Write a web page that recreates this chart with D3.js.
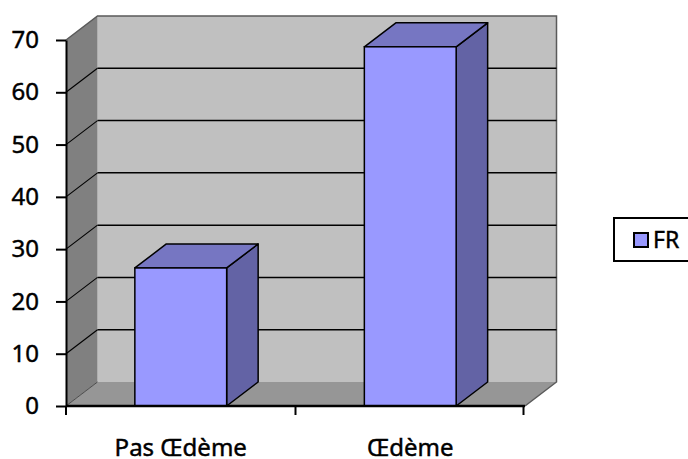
<!DOCTYPE html>
<html>
<head>
<meta charset="utf-8">
<script src="https://cdn.jsdelivr.net/npm/d3@7"></script>
<style>
  html, body { margin: 0; padding: 0; background: #fff; }
  svg { display: block; }
  text { font-family: "Noto Sans", "DejaVu Sans", sans-serif; fill: #000; stroke: #000; stroke-width: 0.45px; }
</style>
</head>
<body>
<svg id="chart" width="688" height="459"></svg>
<script>
// Chart data
const categories = ["Pas Œdème", "Œdème"];
const seriesName = "FR";
const seriesValues = [26.4, 68.7];
const yTicks = [0, 10, 20, 30, 40, 50, 60, 70];

const svg = d3.select("#chart");

// Front plane of the 3D box, plus the depth offset of the back wall
const x = d3.scaleBand().domain(categories).range([66, 525]).paddingInner(0).paddingOuter(0);
const y = d3.scaleLinear().domain([0, 70]).range([406, 40]);
const DX = 31.5, DY = -24;
const xL = x.range()[0], xR = x.range()[1];
const yTop = y(70), yBot = y(0);

const colors = {
  backWall: "#c0c0c0",
  sideWall: "#808080",
  floor: "#969696",
  front: "#9999ff",
  top: "#7676c2",
  side: "#6363a5"
};

const pts = a => a.map(p => p.join(",")).join(" ");

// Back wall
svg.append("polygon")
  .attr("points", pts([[xL + DX, yTop + DY], [xR + DX, yTop + DY], [xR + DX, yBot + DY], [xL + DX, yBot + DY]]))
  .attr("fill", colors.backWall);
// Left side wall
svg.append("polygon")
  .attr("points", pts([[xL, yTop], [xL + DX, yTop + DY], [xL + DX, yBot + DY], [xL, yBot]]))
  .attr("fill", colors.sideWall);
// Floor
svg.append("polygon")
  .attr("points", pts([[xL, yBot], [xL + DX, yBot + DY], [xR + DX, yBot + DY], [xR, yBot]]))
  .attr("fill", colors.floor);

// Wall edges
svg.append("path")
  .attr("d", `M${xL},${yTop}L${xL + DX},${yTop + DY}L${xR + DX},${yTop + DY}L${xR + DX},${yBot + DY}L${xR},${yBot}`)
  .attr("fill", "none").attr("stroke", "#5a5a5a").attr("stroke-width", 1.5);
svg.append("line")
  .attr("x1", xL).attr("y1", yBot).attr("x2", xL + DX).attr("y2", yBot + DY)
  .attr("stroke", "#333").attr("stroke-width", 0.8);

// Gridlines: back wall and side wall
const grid = yTicks.filter(v => v > 0 && v < 70);
svg.append("g").selectAll("line").data(grid).join("line")
  .attr("x1", xL + DX).attr("x2", xR + DX)
  .attr("y1", d => y(d) + DY).attr("y2", d => y(d) + DY)
  .attr("stroke", "#000").attr("stroke-width", 1.5);
svg.append("g").selectAll("line").data(grid).join("line")
  .attr("x1", xL).attr("x2", xL + DX)
  .attr("y1", d => y(d)).attr("y2", d => y(d) + DY)
  .attr("stroke", "#000").attr("stroke-width", 1.1);

// 3D columns
const barW = x.bandwidth() * 0.4;
const bars = svg.append("g").selectAll("g").data(categories.map((c, i) => ({ c, v: seriesValues[i] }))).join("g");
bars.each(function (d) {
  const g = d3.select(this);
  const x0 = x(d.c) + (x.bandwidth() - barW) / 2, x1 = x0 + barW;
  const yt = y(d.v), yb = y(0);
  // right side face
  g.append("polygon")
    .attr("points", pts([[x1, yt], [x1 + DX, yt + DY], [x1 + DX, yb + DY], [x1, yb]]))
    .attr("fill", colors.side).attr("stroke", "#000").attr("stroke-width", 1.5).attr("stroke-linejoin", "round");
  // top face
  g.append("polygon")
    .attr("points", pts([[x0, yt], [x0 + DX, yt + DY], [x1 + DX, yt + DY], [x1, yt]]))
    .attr("fill", colors.top).attr("stroke", "#000").attr("stroke-width", 1.5).attr("stroke-linejoin", "round");
  // front face
  g.append("rect")
    .attr("x", x0).attr("y", yt).attr("width", barW).attr("height", yb - yt)
    .attr("fill", colors.front).attr("stroke", "#000").attr("stroke-width", 1.5);
});

// Value axis
const yAxis = svg.append("g")
  .attr("transform", `translate(${xL},0)`)
  .call(d3.axisLeft(y).tickValues(yTicks).tickSize(10).tickPadding(17).tickSizeOuter(0));
yAxis.select(".domain").attr("stroke", "#000").attr("stroke-width", 2);
yAxis.selectAll(".tick line").attr("stroke", "#000").attr("stroke-width", 2);
yAxis.selectAll(".tick text").attr("font-size", 24).attr("font-family", null).attr("fill", "#000");

// Category axis
svg.append("line")
  .attr("x1", xL).attr("x2", xR).attr("y1", yBot).attr("y2", yBot)
  .attr("stroke", "#000").attr("stroke-width", 2.5);
const bounds = [xL, ...categories.slice(1).map(c => x(c)), xR - 1.5];
svg.append("g").selectAll("line").data(bounds).join("line")
  .attr("x1", d => d).attr("x2", d => d).attr("y1", yBot).attr("y2", yBot + 9)
  .attr("stroke", "#000").attr("stroke-width", 2);
svg.append("g").selectAll("text").data(categories).join("text")
  .attr("x", d => x(d) + x.bandwidth() / 2)
  .attr("y", 456)
  .attr("text-anchor", "middle")
  .attr("font-size", 24)
  .text(d => d);

// Legend
const legend = svg.append("g");
legend.append("rect")
  .attr("x", 614).attr("y", 218).attr("width", 90).attr("height", 43)
  .attr("fill", "#fff").attr("stroke", "#000").attr("stroke-width", 2);
legend.append("rect")
  .attr("x", 634).attr("y", 233).attr("width", 14).attr("height", 14)
  .attr("fill", colors.front).attr("stroke", "#000").attr("stroke-width", 2);
legend.append("text")
  .attr("x", 653).attr("y", 247.5)
  .attr("font-size", 23)
  .text(seriesName);
</script>
</body>
</html>
